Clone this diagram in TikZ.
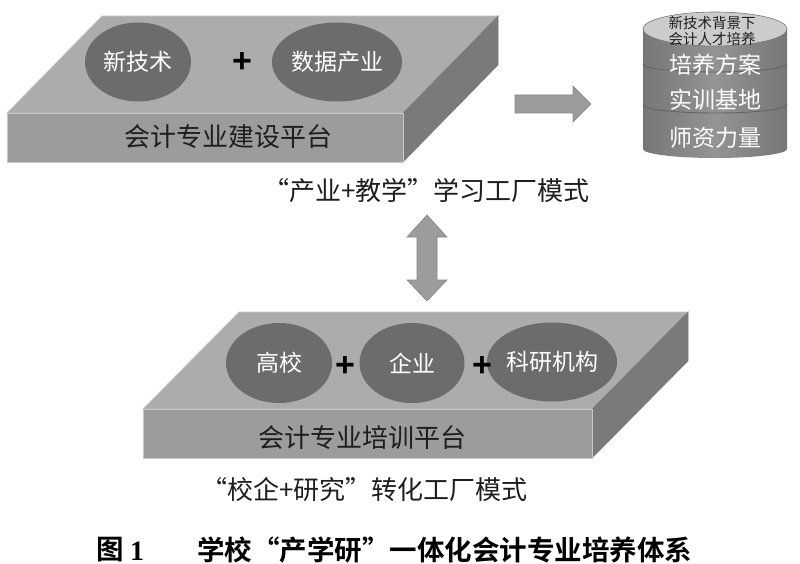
\documentclass[tikz,border=0pt]{standalone}
\usepackage{fontspec}
\setmainfont{Noto Sans CJK SC}[BoldFont={Noto Sans CJK SC Bold}]
\newfontfamily\serifnum{Liberation Serif}
\newfontfamily\plusfont{Liberation Sans}
\usetikzlibrary{shapes.geometric}
\definecolor{slabtop}{RGB}{172,172,172}
\definecolor{slabfront}{RGB}{156,156,156}
\definecolor{slabside}{RGB}{122,122,122}
\definecolor{slabedge}{RGB}{200,200,200}
\definecolor{blobgray}{RGB}{108,108,108}
\definecolor{cylmid}{RGB}{148,148,148}
\definecolor{cyledge}{RGB}{118,118,118}
\definecolor{cyltop}{RGB}{204,204,204}
\definecolor{cylline}{RGB}{100,100,100}
\definecolor{arrowfill}{RGB}{156,156,156}
\definecolor{arrowline}{RGB}{135,135,135}
\definecolor{labeltext}{RGB}{30,30,30}
\tikzset{
  blob/.style={ellipse, fill=blobgray, draw=none, text=white, inner sep=0pt,
    font=\fontsize{23}{23}\selectfont},
  plussign/.style={inner sep=0pt, text=black, font=\plusfont\bfseries\fontsize{34}{34}\selectfont},
  slablabel/.style={inner sep=0pt, text=labeltext, font=\fontsize{26}{26}\selectfont},
  cyllabel/.style={inner sep=0pt, text=white, font=\fontsize{23}{23}\selectfont},
  modeltext/.style={inner sep=0pt, anchor=west, text=labeltext, font=\fontsize{26}{26}\selectfont},
  captext/.style={inner sep=1pt, anchor=west, text=black, font=\bfseries\fontsize{27.5}{28}\selectfont},
  blockarrow/.style={fill=arrowfill, draw=arrowline, line width=0.6pt},
  topface/.style={fill=slabtop, draw=slabedge, line width=0.8pt},
  frontface/.style={fill=slabfront, draw=slabedge, line width=0.5pt},
  sideface/.style={fill=slabside, draw=slabside, line width=0.5pt}
}
\begin{document}
\begin{tikzpicture}[x=1pt,y=-1pt]
\useasboundingbox (0,0) rectangle (800,564);
\fill[white] (0,0) rectangle (800,564);

% ---- top slab
\draw[topface] (7,113) -- (102,16) -- (498,16) -- (403,113) -- cycle;
\draw[sideface] (403,113) -- (498,16) -- (498,65) -- (403,162) -- cycle;
\draw[frontface] (7,113) rectangle (403,162);
\node[blob, minimum width=106pt, minimum height=79pt] (xjs) at (138,62) {新技术};
\node[blob, minimum width=112pt, minimum height=79pt] (sjcy) at (337,62) {数据产业};
\node[plussign] (plusA) at (242,63) {+};
\node[slablabel] (jsplat) at (228,137) {会计专业建设平台};

% ---- bottom slab
\draw[topface] (143,409) -- (239,312) -- (688,312) -- (592,409) -- cycle;
\draw[sideface] (592,409) -- (688,312) -- (688,361) -- (592,458) -- cycle;
\draw[frontface] (143,409) rectangle (592,458);
\node[blob, minimum width=106pt, minimum height=80pt] (gx) at (279,363) {高校};
\node[blob, minimum width=105pt, minimum height=80pt] (qy) at (412,363) {企业};
\node[blob, minimum width=106pt, minimum height=79pt] (ky) at (552,362) {科研机构};
\node[plussign] (plusB) at (345,367) {+};
\node[plussign] (plusC) at (482,367) {+};
\node[slablabel] (pxplat) at (362,438) {会计专业培训平台};

% ---- cylinder
\shade[left color=cyledge, right color=cyledge, middle color=cylmid]
  (643,29) -- (643,149) arc[start angle=180, end angle=0, x radius=72, y radius=9] -- (787,29) -- cycle;
\draw[cylline, line width=0.9pt] (643,64) arc[start angle=180, end angle=0, x radius=72, y radius=8];
\draw[cylline, line width=0.9pt] (643,105) arc[start angle=180, end angle=0, x radius=72, y radius=8];
\draw[fill=cyltop, draw=cyledge, line width=0.6pt] (715,29) ellipse[x radius=72, y radius=17];
\node[inner sep=0pt, align=center, text=labeltext, font=\fontsize{14.5}{16}\selectfont] (cyltitle) at (712,31) {新技术背景下\\会计人才培养};
\node[cyllabel] (pyfa) at (715,65) {培养方案};
\node[cyllabel] (sxjd) at (715,100) {实训基地};
\node[cyllabel] (szll) at (715,138) {师资力量};

% ---- arrows
\draw[blockarrow] (515,95) -- (573,95) -- (573,86) -- (591,104) -- (573,122) -- (573,113) -- (515,113) -- cycle;
\draw[blockarrow] (427,215) -- (447,237) -- (437,237) -- (437,280) -- (447,280) -- (427,301)
  -- (407,280) -- (417,280) -- (417,237) -- (407,237) -- cycle;

% ---- texts
\node[modeltext] (mode1) at (263,191) {“产业+教学”学习工厂模式};
\node[modeltext] (mode2) at (201,490) {“校企+研究”转化工厂模式};
\node[captext] (capfig) at (95,550) {图};
\node[captext, font=\serifnum\bfseries\fontsize{28}{28}\selectfont] (capnum) at (129,551) {1};
\node[captext] (captitle) at (196,550) {学校“产学研”一体化会计专业培养体系};
\end{tikzpicture}
\end{document}
